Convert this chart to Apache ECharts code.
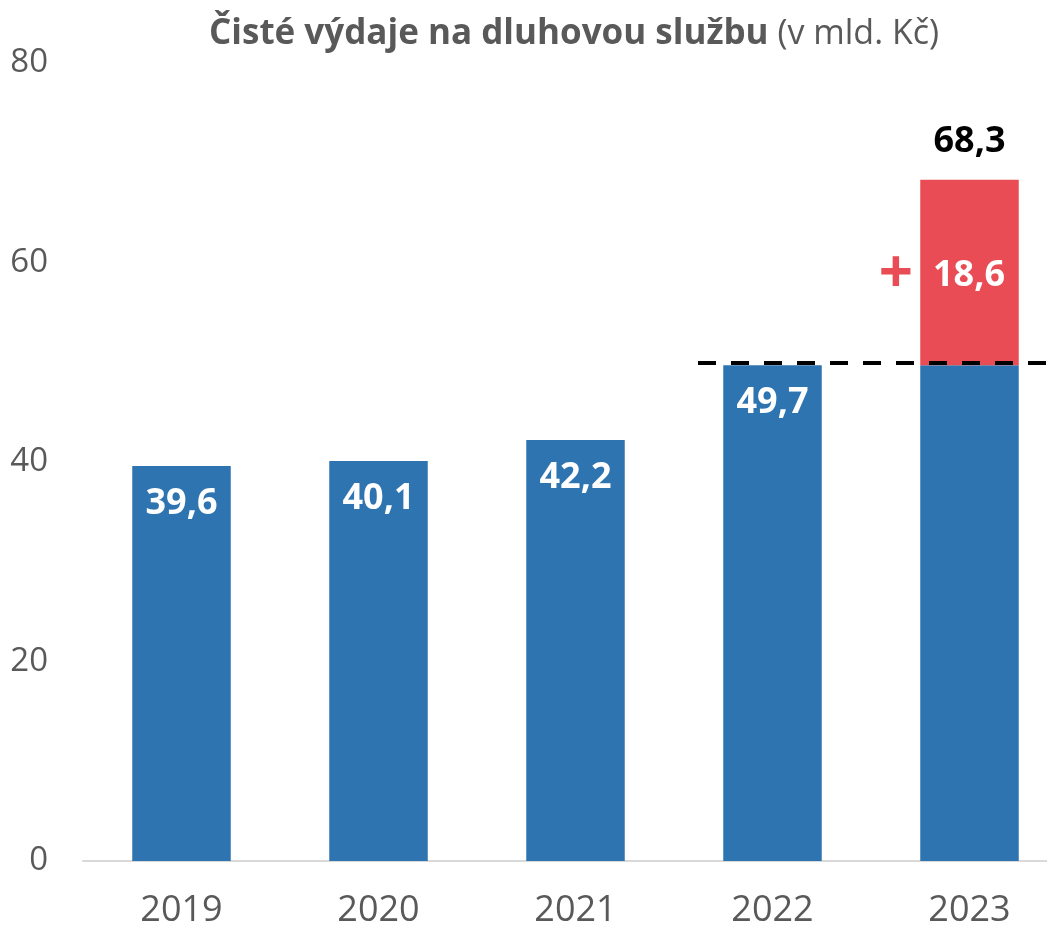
<!DOCTYPE html>
<html>
<head>
<meta charset="utf-8">
<script src="https://cdn.jsdelivr.net/npm/echarts@6/dist/echarts.min.js"></script>
<style>
  html, body { margin: 0; padding: 0; background: #fff; }
  #chart { width: 1047px; height: 933px; }
</style>
</head>
<body>
<div id="chart"></div>
<script>
const years = ['2019', '2020', '2021', '2022', '2023']
const baseValues = [39.6, 40.1, 42.2, 49.7, 49.7]
const increase = ['-', '-', '-', '-', 18.6]
const totals = ['-', '-', '-', '-', 68.3]
const refLevel = 50
const yTicks = [0, 20, 40, 60, 80]

const fmt = v => String(v).replace('.', ',')
const font = '"Open Sans", "Noto Sans", sans-serif'

const chart = echarts.init(document.getElementById('chart'))

const option = {
  animation: false,
  textStyle: { fontFamily: font },
  title: {
    text: '{b|Čisté výdaje na dluhovou službu}{n| (v mld. Kč)}',
    left: 204,
    top: 12,
    textStyle: {
      fontWeight: 'normal',
      rich: {
        b: { fontFamily: font, fontSize: 35, fontWeight: 'bold', color: '#595959' },
        n: { fontFamily: font, fontSize: 34, fontWeight: 'normal', color: '#595959' }
      }
    }
  },
  grid: {
    left: 83,
    top: 63,
    width: 985,
    bottom: 72,
    outerBoundsMode: 'none'
  },
  xAxis: {
    type: 'category',
    data: years,
    axisTick: { show: false },
    axisLine: { lineStyle: { color: '#d9d9d9', width: 2 } },
    axisLabel: { color: '#595959', fontSize: 36, margin: 32, fontFamily: font }
  },
  yAxis: {
    type: 'value',
    min: yTicks[0],
    max: yTicks[yTicks.length - 1],
    interval: 20,
    axisLine: { show: false },
    axisTick: { show: false },
    splitLine: { show: false },
    axisLabel: { color: '#595959', fontSize: 33, margin: 35, fontFamily: font }
  },
  series: [
    {
      name: 'base',
      type: 'bar',
      stack: 'total',
      barWidth: '50%',
      data: baseValues.map((v, i) => ({
        value: v,
        label: { show: i < 4 }
      })),
      itemStyle: { color: '#2E74B0' },
      label: {
        position: 'insideTop',
        distance: 20,
        color: '#fff',
        fontSize: 36,
        fontWeight: 'bold',
        fontFamily: font,
        formatter: p => fmt(p.value)
      },
      markLine: {
        silent: true,
        symbol: 'none',
        label: { show: false },
        lineStyle: { color: '#000', width: 4, type: [18, 15] },
        data: [[
          { xAxis: '2022', yAxis: refLevel, x: 698 },
          { xAxis: '2023', yAxis: refLevel, x: 1047 }
        ]]
      }
    },
    {
      name: 'increase',
      type: 'bar',
      stack: 'total',
      barWidth: '50%',
      data: increase,
      itemStyle: { color: '#E94C55' },
      label: {
        show: true,
        position: 'inside',
        offset: [-27, 3],
        formatter: p => '{p|+}{g|}{v|' + fmt(p.value) + '}',
        rich: {
          p: { color: '#E94C55', fontSize: 60, fontWeight: 'bold', width: 32, align: 'center', fontFamily: font },
          g: { width: 21 },
          v: { color: '#fff', fontSize: 36, fontWeight: 'bold', fontFamily: font }
        }
      }
    },
    {
      name: 'total',
      type: 'bar',
      barGap: '-100%',
      barWidth: '50%',
      data: totals,
      itemStyle: { color: 'transparent' },
      z: 1,
      label: {
        show: true,
        position: 'top',
        distance: 20,
        color: '#000',
        fontSize: 36,
        fontWeight: 'bold',
        fontFamily: font,
        formatter: p => fmt(p.value)
      }
    }
  ]
}

chart.setOption(option)
</script>
</body>
</html>
